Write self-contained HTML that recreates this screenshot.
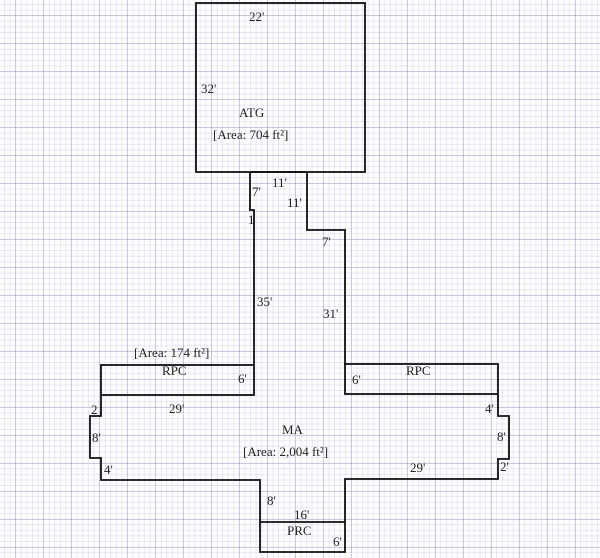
<!DOCTYPE html>
<html><head><style>
html,body{margin:0;padding:0;}
body{width:600px;height:558px;overflow:hidden;background:#fff;
background-image:
linear-gradient(to right, rgba(150,150,190,.4) 1px, transparent 1px),
linear-gradient(to bottom, rgba(150,150,190,.4) 1px, transparent 1px),
linear-gradient(to right, rgba(170,170,210,.28) 1px, transparent 1px),
linear-gradient(to bottom, rgba(170,170,210,.28) 1px, transparent 1px);
background-size:28px 28px,28px 28px,5.6px 5.6px,5.6px 5.6px;
background-position:15px 15px,15px 15px,4px 4px,4px 4px;}
svg{position:absolute;left:0;top:0;}
text{font-family:"Liberation Serif",serif;font-size:13px;fill:#222;}
</style></head><body>
<svg width="600" height="558" viewBox="0 0 600 558">
<g fill="none" stroke="#111" stroke-width="1.8">
<rect x="196" y="3" width="169" height="169"/>
<polyline points="250,172 250,210 254,210 254,365"/>
<polyline points="307,172 307,230 345,230 345,365"/>
<polyline points="250,172 307,172"/>
<rect x="101" y="365" width="153" height="30"/>
<rect x="345" y="364" width="153" height="30"/>
<polyline points="101,395 101,416 90,416 90,458 101,458 101,480 260,480 260,552 345,552 345,479 498,479 498,459 509,459 509,416 498,416 498,394"/>
<line x1="260" y1="522" x2="345" y2="522"/>
</g>
<text x="249" y="21">22'</text>
<text x="201" y="93">32'</text>
<text x="239" y="117" font-size="14">ATG</text>
<text x="213" y="139" font-size="14">[Area: 704 ft²]</text>
<text x="272" y="187">11'</text>
<text x="287" y="207">11'</text>
<text x="252" y="196">7'</text>
<text x="248" y="224">1</text>
<text x="322" y="246">7'</text>
<text x="257" y="306">35'</text>
<text x="323" y="318">31'</text>
<text x="134" y="357" font-size="14">[Area: 174 ft²]</text>
<text x="162" y="375" font-size="14">RPC</text>
<text x="238" y="383">6'</text>
<text x="352" y="384">6'</text>
<text x="406" y="375" font-size="14">RPC</text>
<text x="169" y="413">29'</text>
<text x="91" y="414">2</text>
<text x="92" y="442">8'</text>
<text x="104" y="474">4'</text>
<text x="485" y="413">4'</text>
<text x="497" y="441">8'</text>
<text x="500" y="471">2'</text>
<text x="410" y="472">29'</text>
<text x="282" y="434" font-size="14">MA</text>
<text x="243" y="456" font-size="14">[Area: 2,004 ft²]</text>
<text x="267" y="505">8'</text>
<text x="294" y="519">16'</text>
<text x="287" y="535" font-size="14">PRC</text>
<text x="333" y="546">6'</text>
</svg>
</body></html>
